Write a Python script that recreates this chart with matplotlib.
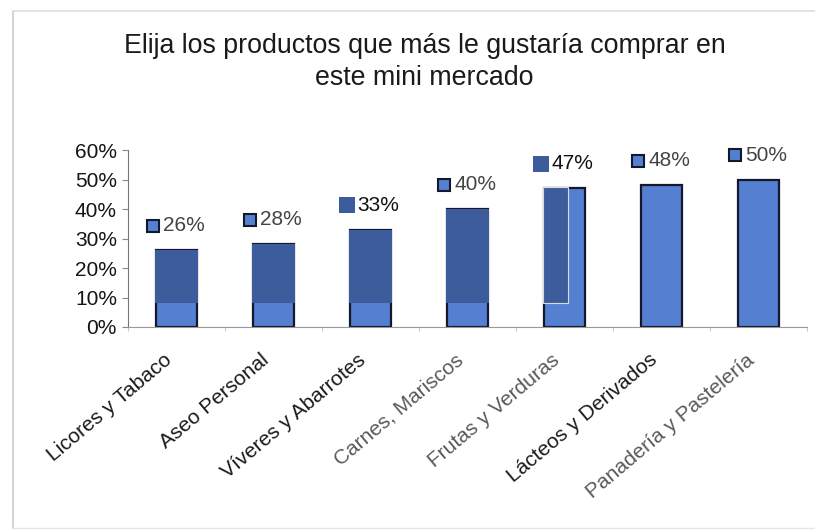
import numpy as np
import matplotlib.pyplot as plt
from matplotlib.ticker import PercentFormatter
from matplotlib.transforms import ScaledTranslation

plt.rcParams['font.family'] = ['Liberation Sans', 'DejaVu Sans']

# survey results: share of respondents per product group
categories = ['Licores y Tabaco', 'Aseo Personal', 'Víveres y Abarrotes',
              'Carnes, Mariscos', 'Frutas y Verduras', 'Lácteos y Derivados',
              'Panadería y Pastelería']
values = [0.26, 0.28, 0.33, 0.40, 0.47, 0.48, 0.50]
label_colors = ['#1a1a1a', '#1a1a1a', '#1a1a1a', '#5a5a5a', '#5a5a5a', '#1a1a1a', '#5a5a5a']
value_colors = ['#444444', '#444444', '#111111', '#444444', '#111111', '#444444', '#444444']
dark_marker = [False, False, True, False, True, False, False]

light_blue = '#5580d2'
dark_blue = '#3d5c9c'
edge = '#15182a'

fig = plt.figure(figsize=(8.15, 5.31), dpi=100)
ax = fig.add_axes([128 / 815, 1 - 327 / 531, 679 / 815, 177 / 531])

x = np.arange(len(categories))
w = 0.42
ax.bar(x, values, width=w, color=light_blue, edgecolor=edge, linewidth=1.6, zorder=2)

# darker overlay blocks on the upper part of the first bars
patch_base = 0.081
for i in range(4):
    ax.bar(x[i], values[i] - patch_base, bottom=patch_base, width=w + 0.02,
           color=dark_blue, linewidth=0, zorder=3)
ax.bar(x[4] - w / 2 - 0.01, values[4] + 0.005 - patch_base, bottom=patch_base,
       width=0.26, align='edge', color=dark_blue, edgecolor='#d8dce8',
       linewidth=0.8, zorder=3)

# value labels with a small key square in front
key_shift = ScaledTranslation(-24 / 100, 0, fig.dpi_scale_trans)
for i, v in enumerate(values):
    y = v + 0.083
    if dark_marker[i]:
        ax.plot(x[i], y, marker='s', markersize=11, color=dark_blue,
                markeredgewidth=0, linestyle='none', clip_on=False, zorder=4,
                transform=ax.transData + key_shift)
    else:
        ax.plot(x[i], y, marker='s', markersize=9, color=light_blue,
                markeredgecolor=edge, markeredgewidth=1.5, linestyle='none',
                clip_on=False, zorder=4, transform=ax.transData + key_shift)
    ax.annotate(f'{v * 100:.0f}%', xy=(x[i], y), xytext=(-9.5, 0),
                textcoords='offset points', ha='left', va='center',
                fontsize=15, color=value_colors[i], zorder=5,
                annotation_clip=False)

ax.set_xlim(-0.5, len(categories) - 0.5)
ax.set_ylim(0, 0.6)
ax.set_yticks(np.arange(0, 0.61, 0.1))
ax.yaxis.set_major_formatter(PercentFormatter(1.0, decimals=0))
ax.tick_params(axis='y', labelsize=15, labelcolor='#141414', length=4,
               color='#888888', width=0.8, pad=4)

ax.set_xticks(x)
ax.set_xticklabels([])
ax.tick_params(axis='x', length=0)
ax.set_xticks(np.arange(-0.5, len(categories), 1.0), minor=True)
ax.tick_params(axis='x', which='minor', length=3, color='#bbbbbb')

for i, name in enumerate(categories):
    ax.annotate(name, xy=(x[i], 0), xytext=(-5, -22), textcoords='offset points',
                rotation=40, rotation_mode='anchor', ha='right', va='center',
                fontsize=15, color=label_colors[i], annotation_clip=False)

for side in ['top', 'right']:
    ax.spines[side].set_visible(False)
ax.spines['left'].set_color('#777777')
ax.spines['left'].set_linewidth(0.8)
ax.spines['bottom'].set_color('#999999')
ax.spines['bottom'].set_linewidth(0.8)

fig.text(0.521, 1 - 62 / 531, 'Elija los productos que más le gustaría comprar en\neste mini mercado',
         ha='center', va='center', fontsize=19.3, color='#1a1a1a', linespacing=1.3)

# outer chart frame
fig.add_artist(plt.Line2D([13 / 815, 13 / 815], [1 - 11 / 531, 1 - 528 / 531],
                          transform=fig.transFigure, color='#cccccc', linewidth=1.2))
fig.add_artist(plt.Line2D([13 / 815, 1.0], [1 - 11 / 531, 1 - 11 / 531],
                          transform=fig.transFigure, color='#dddddd', linewidth=1.2))
fig.add_artist(plt.Line2D([13 / 815, 1.0], [1 - 528 / 531, 1 - 528 / 531],
                          transform=fig.transFigure, color='#e6e6e6', linewidth=1.0))

fig.savefig('out.png', dpi=100)
